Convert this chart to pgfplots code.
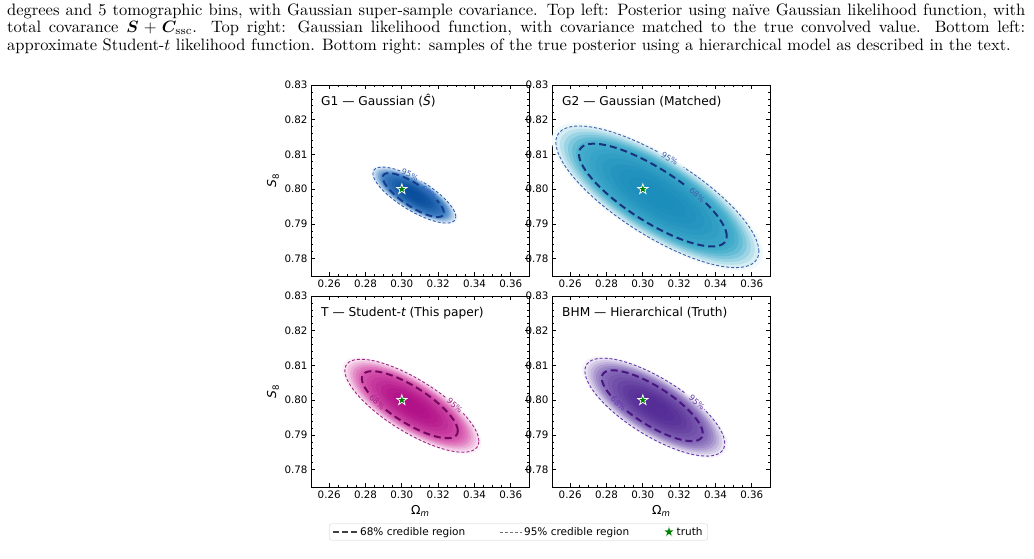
\RequirePackage{fix-cm}
\documentclass[border=0pt]{standalone}
\usepackage{fontspec}
\usepackage{bm}
\usepackage{graphicx}
\usepackage{pgfplots}
\pgfplotsset{compat=1.18}
\usepackage{pgfplotstable}
\newfontfamily\dejavu{DejaVu Sans}

% palette: dark core, mid tone, 68% line, 95% line
\definecolor{gAd}{RGB}{10,78,158}   \definecolor{gAm}{RGB}{70,135,200}
\definecolor{gAc}{RGB}{22,62,140}   \definecolor{gAl}{RGB}{45,95,180}
\definecolor{gBd}{RGB}{28,142,188}  \definecolor{gBm}{RGB}{70,175,205}
\definecolor{gBc}{RGB}{25,50,125}   \definecolor{gBl}{RGB}{65,95,170}
\definecolor{tTd}{RGB}{178,18,136}  \definecolor{tTm}{RGB}{218,95,178}
\definecolor{tTc}{RGB}{115,8,95}    \definecolor{tTl}{RGB}{160,35,130}
\definecolor{bHd}{RGB}{86,44,150}   \definecolor{bHm}{RGB}{140,115,190}
\definecolor{bHc}{RGB}{72,22,128}   \definecolor{bHl}{RGB}{100,55,170}
\definecolor{starg}{RGB}{0,128,0}

% filled five-pointed star
\pgfdeclareplotmark{fstar}{%
  \pgfpathmoveto{\pgfpointpolar{90}{\pgfplotmarksize}}%
  \pgfpathlineto{\pgfpointpolar{126}{0.382\pgfplotmarksize}}%
  \pgfpathlineto{\pgfpointpolar{162}{\pgfplotmarksize}}%
  \pgfpathlineto{\pgfpointpolar{198}{0.382\pgfplotmarksize}}%
  \pgfpathlineto{\pgfpointpolar{234}{\pgfplotmarksize}}%
  \pgfpathlineto{\pgfpointpolar{270}{0.382\pgfplotmarksize}}%
  \pgfpathlineto{\pgfpointpolar{306}{\pgfplotmarksize}}%
  \pgfpathlineto{\pgfpointpolar{342}{0.382\pgfplotmarksize}}%
  \pgfpathlineto{\pgfpointpolar{18}{\pgfplotmarksize}}%
  \pgfpathlineto{\pgfpointpolar{54}{0.382\pgfplotmarksize}}%
  \pgfpathclose
  \pgfusepathqfillstroke}

% unit circle: angle (deg), cos, sin
\pgfplotstableread{
t c s
0 1.0000 0.0000
5 0.9962 0.0872
10 0.9848 0.1736
15 0.9659 0.2588
20 0.9397 0.3420
25 0.9063 0.4226
30 0.8660 0.5000
35 0.8192 0.5736
40 0.7660 0.6428
45 0.7071 0.7071
50 0.6428 0.7660
55 0.5736 0.8192
60 0.5000 0.8660
65 0.4226 0.9063
70 0.3420 0.9397
75 0.2588 0.9659
80 0.1736 0.9848
85 0.0872 0.9962
90 0.0000 1.0000
95 -0.0872 0.9962
100 -0.1736 0.9848
105 -0.2588 0.9659
110 -0.3420 0.9397
115 -0.4226 0.9063
120 -0.5000 0.8660
125 -0.5736 0.8192
130 -0.6428 0.7660
135 -0.7071 0.7071
140 -0.7660 0.6428
145 -0.8192 0.5736
150 -0.8660 0.5000
155 -0.9063 0.4226
160 -0.9397 0.3420
165 -0.9659 0.2588
170 -0.9848 0.1736
175 -0.9962 0.0872
180 -1.0000 0.0000
185 -0.9962 -0.0872
190 -0.9848 -0.1736
195 -0.9659 -0.2588
200 -0.9397 -0.3420
205 -0.9063 -0.4226
210 -0.8660 -0.5000
215 -0.8192 -0.5736
220 -0.7660 -0.6428
225 -0.7071 -0.7071
230 -0.6428 -0.7660
235 -0.5736 -0.8192
240 -0.5000 -0.8660
245 -0.4226 -0.9063
250 -0.3420 -0.9397
255 -0.2588 -0.9659
260 -0.1736 -0.9848
265 -0.0872 -0.9962
270 0.0000 -1.0000
275 0.0872 -0.9962
280 0.1736 -0.9848
285 0.2588 -0.9659
290 0.3420 -0.9397
295 0.4226 -0.9063
300 0.5000 -0.8660
305 0.5736 -0.8192
310 0.6428 -0.7660
315 0.7071 -0.7071
320 0.7660 -0.6428
325 0.8192 -0.5736
330 0.8660 -0.5000
335 0.9063 -0.4226
340 0.9397 -0.3420
345 0.9659 -0.2588
350 0.9848 -0.1736
355 0.9962 -0.0872
360 1.0000 0.0000
}\unitcircle

% one filled level: centre x, centre y, half-width x, half-height y, correlation, scale, colour
\newcommand\ring[7]{%
  \addplot[draw=none, fill=#7, forget plot] table[
    x expr={#1+#3*#6*\thisrow{c}},
    y expr={#2+#4*#6*((#5)*\thisrow{c}+sqrt(1-(#5)*(#5))*\thisrow{s})}] {\unitcircle};}

% posterior density shown as nested levels
\newcommand\heat[6]{%
  \ring{#1}{#2}{#3}{#4}{#5}{1.04}{#6m!8!white}%
  \ring{#1}{#2}{#3}{#4}{#5}{1.00}{#6m!22!white}%
  \ring{#1}{#2}{#3}{#4}{#5}{0.96}{#6m!38!white}%
  \ring{#1}{#2}{#3}{#4}{#5}{0.92}{#6m!54!white}%
  \ring{#1}{#2}{#3}{#4}{#5}{0.88}{#6m!70!white}%
  \ring{#1}{#2}{#3}{#4}{#5}{0.84}{#6m!84!white}%
  \ring{#1}{#2}{#3}{#4}{#5}{0.80}{#6m!95!white}%
  \ring{#1}{#2}{#3}{#4}{#5}{0.76}{#6d!10!#6m}%
  \ring{#1}{#2}{#3}{#4}{#5}{0.72}{#6d!22!#6m}%
  \ring{#1}{#2}{#3}{#4}{#5}{0.67}{#6d!36!#6m}%
  \ring{#1}{#2}{#3}{#4}{#5}{0.61}{#6d!50!#6m}%
  \ring{#1}{#2}{#3}{#4}{#5}{0.54}{#6d!64!#6m}%
  \ring{#1}{#2}{#3}{#4}{#5}{0.46}{#6d!78!#6m}%
  \ring{#1}{#2}{#3}{#4}{#5}{0.38}{#6d!88!#6m}%
  \ring{#1}{#2}{#3}{#4}{#5}{0.28}{#6d!96!#6m}%
  \ring{#1}{#2}{#3}{#4}{#5}{0.18}{#6d}}

% credible-region contour, broken between two angles for its label
\newcommand\contour[8]{%
  \addplot[#6, forget plot, restrict expr to domain={\thisrow{t}}{0:#7}] table[
    x expr={#1+#3*\thisrow{c}},
    y expr={#2+#4*((#5)*\thisrow{c}+sqrt(1-(#5)*(#5))*\thisrow{s})}] {\unitcircle};
  \addplot[#6, forget plot, restrict expr to domain={\thisrow{t}}{#8:360}] table[
    x expr={#1+#3*\thisrow{c}},
    y expr={#2+#4*((#5)*\thisrow{c}+sqrt(1-(#5)*(#5))*\thisrow{s})}] {\unitcircle};}

\tikzset{
  clab/.style={font=\dejavu\fontsize{8}{9}\selectfont, text=#1, inner sep=0pt},
  paneltitle/.style={font=\dejavu\fontsize{12.2}{14}\selectfont, anchor=base west, inner sep=0pt},
}
\pgfplotsset{
  c68/.style={draw=#1, line width=2pt, dash pattern=on 7pt off 4pt, no markers},
  c95/.style={draw=#1, line width=0.9pt, dash pattern=on 3pt off 2pt, no markers},
  truth/.style={only marks, mark=fstar, mark size=5.5pt,
    mark options={fill=starg, draw=white, line width=0.7pt}},
  panel/.style={
    scale only axis, width=218pt, height=191pt, anchor=north west,
    xmin=0.25, xmax=0.37, ymin=0.775, ymax=0.83,
    xtick={0.26,0.28,0.30,0.32,0.34,0.36},
    ytick={0.78,0.79,0.80,0.81,0.82,0.83},
    minor x tick num=3, minor y tick num=4,
    tick align=inside, tick pos=both,
    major tick length=4pt, minor tick length=2pt,
    every tick/.append style={black, line width=0.7pt},
    axis line style={black, line width=0.9pt},
    /pgf/number format/assume math mode=true,
    xticklabel style={font=\dejavu\fontsize{10.3}{12}\selectfont,
      /pgf/number format/.cd, fixed, fixed zerofill, precision=2},
    yticklabel style={font=\dejavu\fontsize{10.3}{12}\selectfont,
      /pgf/number format/.cd, fixed, fixed zerofill, precision=2},
    xlabel style={font=\dejavu\fontsize{12.3}{14}\selectfont,
      at={(axis description cs:0.5,-0.126)}, anchor=center},
    ylabel style={font=\dejavu\fontsize{12.3}{14}\selectfont,
      at={(axis description cs:-0.174,0.5)}, anchor=center},
  },
}

\newcommand\Omlabel{Ω\raisebox{-0.22em}{\fontsize{8.6}{9}\selectfont\itshape m}}
\newcommand\Seightlabel{{\itshape S}\raisebox{-0.22em}{\fontsize{8.6}{9}\selectfont 8}}
% caption lines: 10pt text enlarged to the page scale; full lines justified
\newcommand\capline[1]{\scalebox{1.65}{\fontsize{10}{12}\selectfont\hbox to 617pt{#1}}}
\newcommand\caplast[1]{\scalebox{1.65}{\fontsize{10}{12}\selectfont\hbox{#1}}}

\begin{document}
\begin{tikzpicture}
\useasboundingbox (0pt,0pt) rectangle (1034pt,-558pt);

% caption lines
\begin{scope}[every node/.style={anchor=base west, inner sep=0pt}]
\node at (7pt,-15pt) {\capline{degrees and 5 tomographic bins, with Gaussian super-sample covariance. Top left: Posterior using naïve Gaussian likelihood function, with}};
\node at (7pt,-32.5pt) {\capline{total covarance $\bm{S}+\bm{C}_{\mathrm{ssc}}$. Top right: Gaussian likelihood function, with covariance matched to the true convolved value. Bottom left:}};
\node at (7pt,-50pt) {\caplast{approximate Student-$t$ likelihood function. Bottom right: samples of the true posterior using a hierarchical model as described in the text.}};
\end{scope}

% G1
\begin{axis}[panel, at={(311pt,-85pt)}, xticklabel={}, ylabel={\Seightlabel}]
\heat{0.3069}{0.7983}{0.0228}{0.00806}{-0.77}{gA}
\contour{0.3069}{0.7983}{0.0228}{0.00806}{-0.77}{c95=gAl}{84}{108}
\contour{0.3063}{0.7983}{0.0168}{0.00633}{-0.80}{c68=gAc}{43}{77}
\node[clab=gAl, rotate=-25] at (axis cs:0.3045,0.8041) {95\%};
\node[clab=gAl, rotate=-40] at (axis cs:0.3150,0.7990) {68\%};
\addplot[truth] coordinates {(0.30,0.80)};
\node[paneltitle] at (axis description cs:0.046,0.895) {G1 — Gaussian ({\itshape Ŝ})};
\end{axis}

% G2
\begin{axis}[panel, at={(552pt,-85pt)}, xticklabel={}, yticklabel={}]
\heat{0.3080}{0.7978}{0.0559}{0.0204}{-0.77}{gB}
\contour{0.3080}{0.7978}{0.0559}{0.0204}{-0.77}{c95=gBl}{76}{90}
\contour{0.3055}{0.7983}{0.0407}{0.0148}{-0.80}{c68=gBc}{45}{61}
\node[clab=gBl, rotate=-31] at (axis cs:0.3148,0.8088) {95\%};
\node[clab=gBl, rotate=-41] at (axis cs:0.3299,0.7983) {68\%};
\addplot[truth] coordinates {(0.30,0.80)};
\node[paneltitle] at (axis description cs:0.046,0.895) {G2 — Gaussian (Matched)};
\end{axis}

% T
\begin{axis}[panel, at={(311pt,-296pt)}, xlabel={\Omlabel}, ylabel={\Seightlabel},
  legend columns=3, legend cell align=left,
  legend style={at={(axis description cs:0.952,-0.2356)}, anchor=center,
    draw=black!20, rounded corners=2pt, fill=white,
    font=\dejavu\fontsize{10.5}{12}\selectfont, inner xsep=3pt, inner ysep=1.5pt,
    /tikz/every even column/.append style={column sep=32pt}}]
\addlegendimage{legend image code/.code={\draw[black!75, line width=1.6pt, dash pattern=on 6pt off 3pt] (0pt,0pt) -- (24pt,0pt);}}
\addlegendentry{68\% credible region}
\addlegendimage{legend image code/.code={\draw[black!55, line width=0.8pt, dash pattern=on 3pt off 2pt] (0pt,0pt) -- (22pt,0pt);}}
\addlegendentry{95\% credible region}
\addlegendimage{only marks, mark=fstar, mark size=6pt, mark options={fill=starg, draw=white, line width=0.5pt}}
\addlegendentry{truth}
\heat{0.3055}{0.7984}{0.0369}{0.01339}{-0.76}{tT}
\contour{0.3055}{0.7984}{0.0369}{0.01339}{-0.76}{c95=tTl}{41}{59}
\contour{0.3044}{0.7987}{0.0264}{0.00965}{-0.78}{c68=tTc}{215}{239}
\node[clab=tTl, rotate=-42] at (axis cs:0.3292,0.7985) {95\%};
\node[clab=tTl, rotate=-44] at (axis cs:0.2864,0.7994) {68\%};
\addplot[truth, forget plot] coordinates {(0.30,0.80)};
\node[paneltitle] at (axis description cs:0.046,0.895) {T — Student-{\itshape t} (This paper)};
\end{axis}

% BHM
\begin{axis}[panel, at={(552pt,-296pt)}, xlabel={\Omlabel}, yticklabel={}]
\heat{0.3066}{0.7980}{0.0385}{0.0141}{-0.74}{bH}
\contour{0.3066}{0.7980}{0.0385}{0.0141}{-0.74}{c95=bHl}{45}{61}
\contour{0.3052}{0.7984}{0.0278}{0.0102}{-0.78}{c68=bHc}{217}{239}
\node[clab=bHl, rotate=-41] at (axis cs:0.3298,0.7993) {95\%};
\node[clab=bHl, rotate=-43] at (axis cs:0.2866,0.7990) {68\%};
\addplot[truth] coordinates {(0.30,0.80)};
\node[paneltitle] at (axis description cs:0.046,0.895) {BHM — Hierarchical (Truth)};
\end{axis}
\end{tikzpicture}
\end{document}
